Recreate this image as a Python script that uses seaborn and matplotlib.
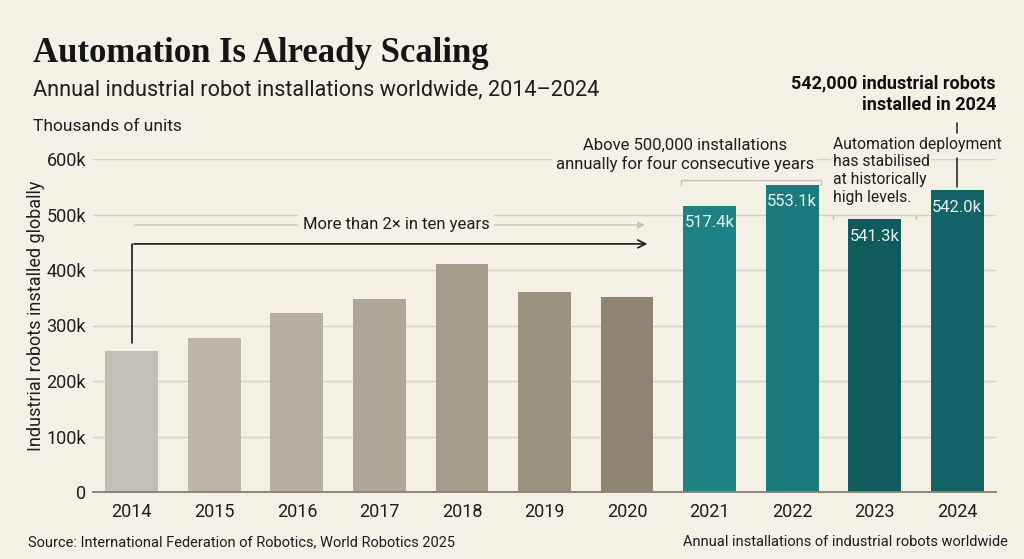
import matplotlib
matplotlib.use("Agg")
import matplotlib.pyplot as plt
import seaborn as sns
import pandas as pd

years = ["2014", "2015", "2016", "2017", "2018", "2019", "2020", "2021", "2022", "2023", "2024"]
installs_k = [254, 277, 322, 348, 410, 361, 352, 516, 554, 492, 544]
value_labels = {"2021": "517.4k", "2022": "553.1k", "2023": "541.3k", "2024": "542.0k"}
yticks = [0, 100, 200, 300, 400, 500, 600]
ytick_labels = ["0", "100k", "200k", "300k", "400k", "500k", "600k"]
bar_colors = ["#C3BEB6", "#BDB6AC", "#B5AEA2", "#AEA698", "#A49D8E", "#9B9382", "#8E8575",
              "#1E8285", "#1C7A7C", "#125B5C", "#136366"]
callout_lines = ["Automation deployment", "has stabilised", "at historically", "high levels."]

BG = "#F4F0E6"
TXT = "#1E1E1E"
FONT = "Roboto"

sns.set_theme(style="white")
plt.rcParams["font.family"] = [FONT, "DejaVu Sans"]

df = pd.DataFrame({"year": years, "value": installs_k})

fig = plt.figure(figsize=(10.24, 5.59), dpi=100, facecolor=BG)
W, H = 1024, 559
ax = fig.add_axes([93 / W, 67 / H, (996 - 93) / W, (492 - 159) / H])
ax.set_facecolor(BG)

sns.barplot(data=df, x="year", y="value", hue="year", palette=bar_colors,
            legend=False, width=0.64, saturation=1, linewidth=0, ax=ax, zorder=3)

ax.set_ylim(0, 600)
ax.set_xlim(-0.47, 10.47)
ax.set_yticks(yticks)
ax.set_yticklabels(ytick_labels)
ax.yaxis.grid(True, color="#D6D1C6", linewidth=1.0, zorder=0)
ax.set_axisbelow(True)
ax.xaxis.grid(False)
for s in ["top", "right", "left"]:
    ax.spines[s].set_visible(False)
ax.spines["bottom"].set_color("#8A857C")
ax.spines["bottom"].set_linewidth(1.4)
ax.spines["bottom"].set_zorder(4)
ax.tick_params(axis="both", length=0, labelsize=13, colors=TXT)
ax.tick_params(axis="y", pad=5)
ax.tick_params(axis="x", pad=8)
ax.set_xlabel("")
ax.set_ylabel("Industrial robots installed globally", fontsize=13, color=TXT)
ax.yaxis.set_label_coords(-0.053, 0.53)

# value labels inside teal bars
for i, y in enumerate(years):
    if y in value_labels:
        ax.annotate(value_labels[y], (i, installs_k[i]), xytext=(0, -7),
                    textcoords="offset points", ha="center", va="top",
                    fontsize=12, color="#E2F0EF", zorder=5)

# titles
fig.text(33 / W, 1 - 62 / H, "Automation Is Already Scaling", fontsize=25,
         family="Liberation Serif", weight="bold", color="#151515", va="baseline")
fig.text(33 / W, 1 - 95 / H, "Annual industrial robot installations worldwide, 2014\u20132024",
         fontsize=15.6, color=TXT, va="baseline")
fig.text(33 / W, 1 - 131 / H, "Thousands of units", fontsize=12.5, color=TXT, va="baseline")

# footer
fig.text(28 / W, 1 - 546 / H, "Source: International Federation of Robotics, World Robotics 2025",
         fontsize=10.5, color=TXT, va="baseline")
fig.text(1008 / W, 1 - 546 / H, "Annual installations of industrial robots worldwide",
         fontsize=10.5, color=TXT, va="baseline", ha="right")

# growth annotation: faint arrow + text, black arrow from 2014 bar
ax.annotate("", xy=(6.25, 481), xytext=(0, 481),
            arrowprops=dict(arrowstyle="-|>", color="#C9C4B9", lw=1.0, mutation_scale=10),
            zorder=1)
ax.text(3.2, 482, "More than 2\u00d7 in ten years", ha="center", va="center", fontsize=12,
        color=TXT, zorder=2, bbox=dict(boxstyle="square,pad=0.3", fc=BG, ec="none"))
ax.plot([0, 0], [installs_k[0] + 15, 447], color="#1A1A1A", lw=1.2, zorder=4)
ax.annotate("", xy=(6.28, 447), xytext=(-0.008, 447),
            arrowprops=dict(arrowstyle="->", color="#1A1A1A", lw=1.2, mutation_scale=14),
            zorder=4)

# bracket for 2021-2022
ax.plot([6.65, 6.65, 8.35, 8.35], [553, 562, 562, 553], color="#C9C4B9", lw=1.0,
        clip_on=False, zorder=1)
ax.plot([8.49, 8.49], [500, 491], color="#C9C4B9", lw=1.0, zorder=1)
ax.plot([9.50, 9.50], [500, 491], color="#C9C4B9", lw=1.0, zorder=1)
ax.text(6.70, 607, "Above 500,000 installations\nannually for four consecutive years",
        ha="center", va="center", fontsize=12, color=TXT, linespacing=1.2,
        clip_on=False, zorder=2, bbox=dict(boxstyle="square,pad=0.2", fc=BG, ec="none"))

# 2024 callout
ax.plot([10, 10], [665, 647], color="#1A1A1A", lw=1.1, clip_on=False, zorder=1)
ax.plot([10, 10], [602, 550], color="#1A1A1A", lw=1.1, clip_on=False, zorder=1)
for k, line in enumerate(callout_lines):
    ax.text(8.49, 627 - k * 32.4, line, ha="left", va="center", fontsize=11.3, color=TXT,
            clip_on=False, zorder=2,
            bbox=dict(boxstyle="square,pad=0.12", fc=BG, ec="none"))
ax.text(10.47, 717, "542,000 industrial robots\ninstalled in 2024", ha="right", va="center",
        fontsize=13, weight="bold", color="#111111", linespacing=1.25, clip_on=False, zorder=4)

fig.savefig("out.png", dpi=100, facecolor=BG)
